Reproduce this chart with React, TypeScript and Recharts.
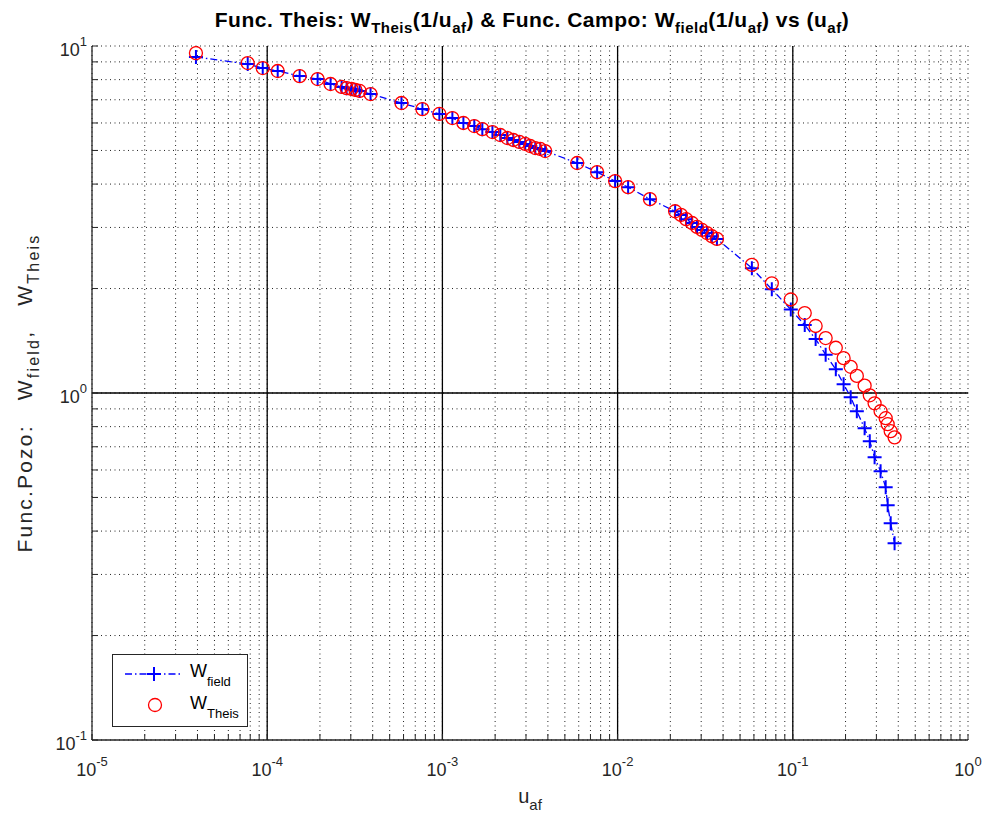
import React from 'react';
import { ComposedChart, Line, XAxis, YAxis, CartesianGrid, ReferenceLine, Legend } from 'recharts';

// u_af values (x)
const uValues = [
  3.92e-5, 7.74e-5, 9.43e-5, 1.148e-4, 1.532e-4, 1.94e-4, 2.30e-4, 2.66e-4, 2.84e-4, 3.03e-4,
  3.19e-4, 3.37e-4, 3.89e-4, 5.84e-4, 7.69e-4, 9.61e-4, 1.14e-3, 1.318e-3, 1.52e-3, 1.69e-3,
  1.93e-3, 2.14e-3, 2.35e-3, 2.54e-3, 2.75e-3, 2.97e-3, 3.17e-3, 3.39e-3, 3.62e-3, 3.86e-3,
  5.88e-3, 7.64e-3, 9.68e-3, 1.148e-2, 1.53e-2, 2.13e-2, 2.30e-2, 2.46e-2, 2.66e-2, 2.84e-2,
  3.03e-2, 3.24e-2, 3.45e-2, 3.69e-2, 5.84e-2, 7.59e-2, 9.74e-2, 0.117, 0.135, 0.154,
  0.176, 0.195, 0.214, 0.232, 0.257, 0.275, 0.293, 0.317, 0.339, 0.348, 0.362, 0.381,
];

// W_field (blue +, dash-dot line)
const wField = [
  9.30, 8.87, 8.64, 8.47, 8.19, 8.03, 7.77, 7.62, 7.56, 7.52,
  7.47, 7.42, 7.27, 6.85, 6.58, 6.37, 6.20, 6.00, 5.88, 5.76,
  5.65, 5.54, 5.43, 5.36, 5.29, 5.22, 5.15, 5.08, 5.05, 4.98,
  4.60, 4.33, 4.08, 3.92, 3.62, 3.34, 3.26, 3.17, 3.09, 3.01,
  2.95, 2.89, 2.83, 2.78, 2.29, 1.99, 1.74, 1.57, 1.43, 1.29,
  1.17, 1.06, 0.972, 0.886, 0.791, 0.726, 0.653, 0.595, 0.535, 0.475, 0.421, 0.369,
];

// W_Theis (red circles)
const wTheis = [
  9.54, 8.93, 8.64, 8.47, 8.19, 8.03, 7.77, 7.62, 7.56, 7.52,
  7.47, 7.42, 7.27, 6.85, 6.58, 6.37, 6.20, 6.00, 5.88, 5.76,
  5.65, 5.54, 5.43, 5.36, 5.29, 5.22, 5.15, 5.08, 5.05, 4.98,
  4.60, 4.33, 4.08, 3.92, 3.62, 3.34, 3.26, 3.17, 3.09, 3.01,
  2.95, 2.89, 2.83, 2.78, 2.34, 2.07, 1.86, 1.70, 1.56, 1.44,
  1.35, 1.26, 1.19, 1.12, 1.05, 0.985, 0.934, 0.886, 0.846, 0.813, 0.776, 0.745,
];

const xTicks = [
  1e-5, 2e-5, 3e-5, 4e-5, 5e-5, 6e-5, 7e-5, 8e-5, 9e-5,
  1e-4, 2e-4, 3e-4, 4e-4, 5e-4, 6e-4, 7e-4, 8e-4, 9e-4,
  1e-3, 2e-3, 3e-3, 4e-3, 5e-3, 6e-3, 7e-3, 8e-3, 9e-3,
  1e-2, 2e-2, 3e-2, 4e-2, 5e-2, 6e-2, 7e-2, 8e-2, 9e-2,
  0.1, 0.2, 0.3, 0.4, 0.5, 0.6, 0.7, 0.8, 0.9, 1,
];
const xDecades = [1e-5, 1e-4, 1e-3, 1e-2, 0.1, 1];

const yTicks = [
  0.1, 0.2, 0.3, 0.4, 0.5, 0.6, 0.7, 0.8, 0.9,
  1, 2, 3, 4, 5, 6, 7, 8, 9, 10,
];
const yDecades = [0.1, 1, 10];

const data = uValues.map((u, i) => ({ u, field: wField[i], theis: wTheis[i] }));

const FONT = '"Liberation Sans", Arial, Helvetica, sans-serif';
const INK = '#262626';

const XTick = (props: any) => {
  const { x, y, payload } = props;
  if (!xDecades.includes(payload.value)) return <g />;
  const exp = Math.round(Math.log10(payload.value));
  return (
    <text x={x} y={y + 36} textAnchor="middle" fontSize={18} fontFamily={FONT} fill={INK}>
      <tspan>10</tspan>
      <tspan dy={-10} fontSize={13}>{exp}</tspan>
    </text>
  );
};

const YTick = (props: any) => {
  const { x, y, payload } = props;
  if (!yDecades.includes(payload.value)) return <g />;
  const exp = Math.round(Math.log10(payload.value));
  return (
    <text x={x - 5} y={y + 10} textAnchor="end" fontSize={18} fontFamily={FONT} fill={INK}>
      <tspan>10</tspan>
      <tspan dy={-10} fontSize={13}>{exp}</tspan>
    </text>
  );
};

const NoTick = () => <g />;

const PlusDot = (props: any) => {
  const { cx, cy } = props;
  if (cx == null || cy == null) return <g />;
  return <path d={`M${cx - 7},${cy}H${cx + 7}M${cx},${cy - 7}V${cy + 7}`} stroke="#0000ff" strokeWidth={2} fill="none" />;
};

const CircleDot = (props: any) => {
  const { cx, cy } = props;
  if (cx == null || cy == null) return <g />;
  return <circle cx={cx} cy={cy} r={6.5} stroke="#ff0000" strokeWidth={1.3} fill="none" />;
};

const LegendBox = () => (
  <svg width={137} height={74}>
    <rect x={0.5} y={0.5} width={135} height={72} fill="#fff" stroke={INK} strokeWidth={1} />
    <line x1={13} y1={20} x2={71} y2={20} stroke="#0000ff" strokeWidth={1.3} strokeDasharray="7 3 1.5 3" />
    <path d="M35,20H49M42,13V27" stroke="#0000ff" strokeWidth={2} />
    <text x={78} y={23} fontSize={18} fontFamily={FONT} fill="#000">
      W<tspan dy={9} fontSize={13}>field</tspan>
    </text>
    <circle cx={43} cy={51} r={6.5} stroke="#ff0000" strokeWidth={1.3} fill="none" />
    <text x={78} y={55} fontSize={18} fontFamily={FONT} fill="#000">
      W<tspan dy={9} fontSize={13}>Theis</tspan>
    </text>
  </svg>
);

export default function App() {
  return (
    <div style={{ position: 'absolute', left: 0, top: 0, width: 985, height: 816, background: '#fff' }}>
      <ComposedChart width={985} height={816} data={data} margin={{ top: 46, right: 17, bottom: 36, left: 32 }}>
        <CartesianGrid stroke="#222" strokeDasharray="1 3.5" strokeWidth={1} />
        <XAxis
          dataKey="u" type="number" scale="log" domain={[1e-5, 1]} ticks={xTicks} interval={0}
          allowDataOverflow height={40} tickSize={-6} tickMargin={6}
          axisLine={{ stroke: INK, strokeWidth: 1.3 }} tickLine={{ stroke: INK }} tick={XTick}
        />
        <XAxis
          xAxisId="top" orientation="top" dataKey="u" type="number" scale="log" domain={[1e-5, 1]}
          ticks={xTicks} interval={0} allowDataOverflow height={0} tickSize={-6}
          axisLine={{ stroke: INK, strokeWidth: 1.3 }} tickLine={{ stroke: INK }} tick={NoTick}
        />
        <YAxis
          type="number" scale="log" domain={[0.1, 10]} ticks={yTicks} interval={0}
          allowDataOverflow width={60} tickSize={-6} tickMargin={6}
          axisLine={{ stroke: INK, strokeWidth: 1.3 }} tickLine={{ stroke: INK }} tick={YTick}
        />
        <YAxis
          yAxisId="right" orientation="right" type="number" scale="log" domain={[0.1, 10]}
          ticks={yTicks} interval={0} allowDataOverflow width={0} tickSize={-6}
          axisLine={{ stroke: INK, strokeWidth: 1.3 }} tickLine={{ stroke: INK }} tick={NoTick}
        />
        {xDecades.slice(1, 5).map((v) => (
          <ReferenceLine key={`vx${v}`} x={v} stroke="#000" strokeWidth={1.3} />
        ))}
        <ReferenceLine y={1} stroke="#000" strokeWidth={1.3} />
        <Line
          dataKey="field" type="linear" stroke="#0000ff" strokeWidth={1.3} strokeDasharray="7 3 1.5 3"
          dot={PlusDot} activeDot={false} isAnimationActive={false}
        />
        <Line
          dataKey="theis" type="linear" stroke="none" dot={CircleDot} activeDot={false} isAnimationActive={false}
        />
        <Legend
          layout="horizontal" verticalAlign="middle" align="center" content={LegendBox}
          wrapperStyle={{ position: 'absolute', left: 112, top: 654, width: 137, height: 74 }}
        />
      </ComposedChart>
      <svg width={985} height={816} style={{ position: 'absolute', left: 0, top: 0, pointerEvents: 'none' }}>
        <text x={532} y={27} textAnchor="middle" fontSize={21} fontWeight="bold" fontFamily={FONT} fill="#000" letterSpacing={0.5}>
          Func. Theis: W<tspan dy={6} fontSize={15}>Theis</tspan>
          <tspan dy={-6}>(1/u</tspan><tspan dy={6} fontSize={15}>af</tspan>
          <tspan dy={-6}>) &amp; Func. Campo: W</tspan><tspan dy={6} fontSize={15}>field</tspan>
          <tspan dy={-6}>(1/u</tspan><tspan dy={6} fontSize={15}>af</tspan>
          <tspan dy={-6}>) vs (u</tspan><tspan dy={6} fontSize={15}>af</tspan>
          <tspan dy={-6}>)</tspan>
        </text>
        <text x={530} y={803} textAnchor="middle" fontSize={20} fontFamily={FONT} fill={INK}>
          u<tspan dy={7} fontSize={15}>af</tspan>
        </text>
        <text transform="translate(32, 393) rotate(-90)" textAnchor="middle" fontSize={21} fontFamily={FONT} fill={INK} letterSpacing={2.2} style={{ whiteSpace: 'pre' }}>
          {'Func.Pozo:   W'}<tspan dy={7} fontSize={16}>field</tspan>
          <tspan dy={-7}>{',   W'}</tspan><tspan dy={7} fontSize={16}>Theis</tspan>
        </text>
      </svg>
    </div>
  );
}
